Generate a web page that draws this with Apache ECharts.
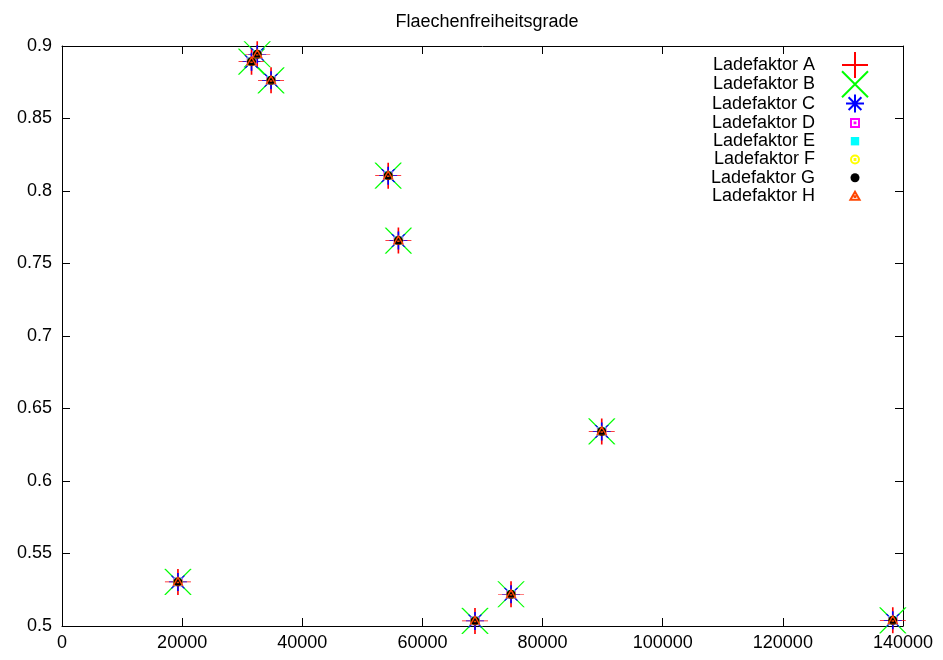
<!DOCTYPE html>
<html>
<head>
<meta charset="utf-8">
<script src="https://cdn.jsdelivr.net/npm/echarts@6/dist/echarts.min.js"></script>
<style>
  html, body { margin: 0; padding: 0; background: #fff; }
  #chart { width: 943px; height: 660px; }
</style>
</head>
<body>
<div id="chart"></div>
<script>
// Flaechenfreiheitsgrade: alle Ladefaktoren liegen auf denselben Punkten
const seriesNames = ['Ladefaktor A', 'Ladefaktor B', 'Ladefaktor C', 'Ladefaktor D',
                     'Ladefaktor E', 'Ladefaktor F', 'Ladefaktor G', 'Ladefaktor H'];
const xValues = [19300, 31550, 32500, 34800, 54300, 56000, 68750, 74750, 89850, 138300];
const yValues = [0.5304, 0.8892, 0.8943, 0.8763, 0.8106, 0.7658, 0.5035, 0.5219, 0.6342, 0.5039];
const xTicks = [0, 140000, 20000];   // min, max, interval
const yTicks = [0.5, 0.9, 0.05];

const colors = ['#ff0000', '#00ff00', '#0000ff', '#ff00ff', '#00ffff', '#ffff00', '#000000', '#ff4500'];

// symbol box 70x26, mark centred at (35,13); zero length segments in the corners keep the box
const pad = 'M0,0L0,0M70,26L70,26';
const symbols = [
    pad + 'M22,13L48,13M35,0L35,26',                                   // +
    pad + 'M22,0L48,26M22,26L48,0',                                    // x
    pad + 'M26,13L44,13M35,4L35,22M28.6,6.6L41.4,19.4M28.6,19.4L41.4,6.6', // *
    pad + 'M31,9L39,9L39,17L31,17ZM34.6,12.6L35.4,12.6L35.4,13.4L34.6,13.4Z', // open square
    pad + 'M30.8,8.8L39.2,8.8L39.2,17.2L30.8,17.2Z',                   // filled square
    pad + 'M39,13A4,4,0,1,1,31,13A4,4,0,1,1,39,13ZM34.6,12.6L35.4,12.6L35.4,13.4L34.6,13.4Z', // open circle
    pad + 'M39.5,13A4.5,4.5,0,1,1,30.5,13A4.5,4.5,0,1,1,39.5,13Z',     // filled circle
    pad + 'M35,8.6L39.6,16.6L30.4,16.6ZM34.6,13.2L35.4,13.2L35.4,14L34.6,14Z' // open triangle
];
const filled = [false, false, false, false, true, false, true, false];

const points = xValues.map((x, i) => [x, yValues[i]]);
const font = "'Liberation Sans', Arial, sans-serif";

const axisCommon = {
    axisLine: { show: true, onZero: false, lineStyle: { color: '#000', width: 1 } },
    axisTick: { show: true, inside: true, length: 8, lineStyle: { color: '#000' } },
    splitLine: { show: false }
};

const option = {
    backgroundColor: '#fff',
    animation: false,
    title: {
        text: 'Flaechenfreiheitsgrade',
        left: 482,
        textAlign: 'center',
        top: 8,
        textStyle: { fontFamily: font, fontSize: 18, fontWeight: 'normal', color: '#000' }
    },
    grid: { left: 62, right: 40, top: 46, bottom: 34 },
    legend: {
        orient: 'vertical',
        align: 'right',
        right: 47,
        top: 46,
        itemWidth: 70,
        itemHeight: 26,
        itemGap: -8.7,
        selectedMode: false,
        textStyle: { fontFamily: font, fontSize: 18, color: '#000' },
        data: seriesNames.map((n, i) => ({ name: n, icon: 'path://' + symbols[i] }))
    },
    xAxis: [
        Object.assign({
            type: 'value', position: 'bottom',
            min: xTicks[0], max: xTicks[1], interval: xTicks[2],
            axisLabel: { color: '#000', fontFamily: font, fontSize: 18, margin: 8,
                         formatter: v => String(v) }
        }, axisCommon),
        Object.assign({
            type: 'value', position: 'top',
            min: xTicks[0], max: xTicks[1], interval: xTicks[2],
            axisLabel: { show: false }
        }, axisCommon)
    ],
    yAxis: [
        Object.assign({
            type: 'value', position: 'left',
            min: yTicks[0], max: yTicks[1], interval: yTicks[2],
            axisLabel: {
                color: '#000', fontFamily: font, fontSize: 18, margin: 10,
                formatter: v => String(+v.toFixed(2))
            }
        }, axisCommon),
        Object.assign({
            type: 'value', position: 'right',
            min: yTicks[0], max: yTicks[1], interval: yTicks[2],
            axisLabel: { show: false }
        }, axisCommon)
    ],
    series: seriesNames.map((n, i) => ({
        name: n,
        type: 'scatter',
        xAxisIndex: 0,
        yAxisIndex: 0,
        symbol: 'path://' + symbols[i],
        symbolSize: [70, 26],
        symbolKeepAspect: false,
        itemStyle: filled[i]
            ? { color: colors[i], borderWidth: 0, opacity: 1 }
            : { color: 'rgba(0,0,0,0)', borderColor: colors[i], borderWidth: 1, opacity: 1 },
        emphasis: { disabled: true },
        data: points
    }))
};

const myChart = echarts.init(document.getElementById('chart'));
myChart.setOption(option);
</script>
</body>
</html>
